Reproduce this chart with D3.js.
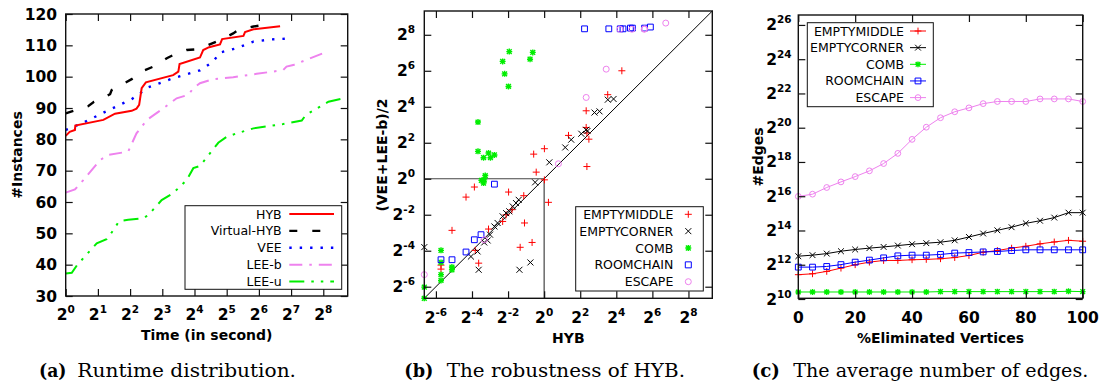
<!DOCTYPE html>
<html><head><meta charset="utf-8"><title>chart</title>
<script src="https://d3js.org/d3.v7.min.js"></script>
<style>html,body{margin:0;padding:0;background:#fff}svg{display:block}</style>
</head><body><svg id="chart" width="1099" height="387"></svg>
<script>
// ---------------- (a) Runtime distribution ----------------
const timeTicksA = [1, 2, 4, 8, 16, 32, 64, 128, 256];
const instTicks = [30, 40, 50, 60, 70, 80, 90, 100, 110, 120];
const seriesNamesA = ["HYB", "Virtual-HYB", "VEE", "LEE-b", "LEE-u"];
const hybTime = [1, 1.09, 1.22, 1.23, 2.25, 2.89, 4.14, 4.59, 4.86, 5.13, 5.62, 10.1, 11.3, 11.6, 18.0, 19.3, 21.9, 27.7, 29.0, 45.9, 47.5, 56.9, 101];
const hybInst = [81.1, 82.4, 83, 84.4, 86.2, 88.2, 89.1, 89.8, 91, 96.3, 98.2, 100.5, 101.6, 104, 106.1, 108.5, 109.4, 110.3, 112, 113, 114.2, 115.1, 116.1];
const vhybTime = [1, 1.27, 1.62, 1.84, 2.6, 2.69, 4.14, 5.5, 6.59, 8.82, 10.1, 13.5, 16.2, 21.6, 27.7, 36.8, 41.1, 56.9, 65.3];
const vhybInst = [88.3, 89.4, 90.6, 92, 94.4, 95.7, 99.2, 102.1, 103.2, 105.9, 106.9, 108.5, 108.7, 110.1, 111.7, 113.8, 114.9, 116, 116.3];
const veeTime = [1, 1.46, 2.41, 4.14, 5.94, 10.1, 18.0, 23.9, 27.7, 39.7, 56.9, 84.4, 125];
const veeInst = [83, 85.3, 89, 92.8, 96.6, 99.5, 102, 104.8, 107.7, 109.1, 111.2, 111.9, 112.2];
const leebTime = [1, 1.22, 1.46, 2.1, 2.5, 3.84, 4.59, 5.74, 8.17, 10.9, 14.0, 15.6, 18.0, 23.9, 36.8, 61.0, 108, 116, 134, 256];
const leebInst = [63, 64, 67, 73.4, 75, 76.1, 81.9, 86.2, 89.9, 93.1, 94.2, 96.3, 97.9, 99.2, 99.8, 100.9, 102.1, 103.2, 103.7, 107.5];
const leeuTime = [1, 1.14, 1.28, 1.95, 2.41, 2.6, 3.16, 3.84, 5.31, 5.94, 7.89, 10.1, 13.5, 15.6, 18.0, 22.3, 26.7, 32, 39.7, 56.9, 108, 161, 176, 286, 393];
const leeuInst = [37.2, 37.4, 39.9, 46.8, 48.1, 49.5, 53.9, 54.3, 54.8, 55.9, 60.6, 62.8, 67, 70.8, 71.5, 75.5, 78.9, 80.8, 81.9, 83.5, 84.9, 86, 87.8, 92, 93.1];

// ---------------- (b) Robustness of HYB: [HYB time, (VEE+LEE-b)/2 time] ----------------
const robustTicks = [1/64, 1/16, 1/4, 1, 4, 16, 64, 256];
const seriesNamesB = ["EMPTYMIDDLE", "EMPTYCORNER", "COMB", "ROOMCHAIN", "ESCAPE"];
const emptyMiddlePts = [[19.8,64],[11.5,25.5],[5.03,13.7],[5.03,7.21],[5.17,5.82],[5.58,4.59],[5.17,1.60],[2.55,5.31],[1.01,3.18],[0.669,2.58],[0.737,1.29],[1.01,0.959],[0.0685,0.727],[0.0497,0.493],[0.255,0.599],[0.457,0.521],[1.18,0.403],[0.029,0.137],[0.47,0.182],[0.629,0.0859],[0.398,0.0713],[0.291,0.304],[0.232,0.25],[0.203,0.193],[0.118,0.144],[0.0708,0.0634],[0.0808,0.0387],[0.019,0.0308],[0.019,0.0359]];
const emptyCornerPts = [[2.25,3.34],[2.83,4.5],[4.17,5.66],[5.03,6.59],[5.28,6.28],[6.92,12.8],[8.4,13.4],[11.55,21.0],[14.4,21.6],[1.22,1.88],[0.707,0.871],[0.376,0.444],[0.339,0.392],[0.299,0.344],[0.262,0.285],[0.232,0.266],[0.203,0.235],[0.167,0.182],[0.148,0.159],[0.125,0.116],[0.114,0.0928],[0.1,0.0859],[0.0775,0.0608],[0.06,0.05],[0.0808,0.03],[0.387,0.03],[0.59,0.0398],[0.01,0.0718]];
const combPts = [[0.262,134],[0.203,91.8],[0.646,130],[0.582,100],[0.219,56.9],[0.254,35.0],[0.0787,8.88],[0.0787,2.87],[0.0975,2.25],[0.118,2.69],[0.127,2.25],[0.148,2.50],[0.104,1.13],[0.0896,0.939],[0.0975,0.847],[0.1,0.959],[0.019,0.0634],[0.019,0.0398],[0.0289,0.0333],[0.0289,0.030],[0.019,0.0249],[0.019,0.0199],[0.01,0.0154],[0.01,0.01]];
const roomChainPts = [[4.72,322],[12.0,322],[18.6,322],[20.7,322],[27.5,331],[29.7,331],[47.5,331],[59.3,345],[0.148,0.812],[0.0884,0.116],[0.0684,0.0954],[0.0497,0.0595],[0.019,0.0442],[0.029,0.0442]];
const escapePts = [[107,402],[47.5,322],[18.4,317],[29.2,317],[46.8,317],[10.85,68.1],[5.03,22.9],[1.73,1.78],[0.1,0.0954],[0.01,0.0249]];

// ---------------- (c) Average number of edges ----------------
const elimPct = [0, 5, 10, 15, 20, 25, 30, 35, 40, 45, 50, 55, 60, 65, 70, 75, 80, 85, 90, 95, 100];
const pctTicks = [0, 20, 40, 60, 80, 100];
const edgeTicks = [2**10, 2**12, 2**14, 2**16, 2**18, 2**20, 2**22, 2**24, 2**26];
const emptyMiddleEdges = [2740, 2840, 3130, 3570, 4100, 4550, 4870, 4870, 5010, 5080, 5220, 5480, 5960, 6790, 7280, 8020, 8660, 9540, 10300, 11000, 10600];
const emptyCornerEdges = [5790, 6040, 6430, 7080, 7590, 8020, 8420, 8900, 9410, 9810, 10200, 11000, 12600, 14500, 16500, 18700, 21900, 24300, 27600, 33700, 33700];
const combEdges = [1360, 1360, 1360, 1360, 1360, 1360, 1360, 1360, 1360, 1360, 1380, 1380, 1380, 1380, 1380, 1380, 1380, 1380, 1380, 1400, 1380];
const roomChainEdges = [3720, 3720, 3820, 4120, 4550, 4940, 5410, 5870, 6040, 6040, 6210, 6560, 6700, 6890, 6990, 7280, 7490, 7490, 7490, 7490, 7490];
const escapeEdges = [65100, 71200, 93300, 117000, 145000, 183000, 246000, 371000, 654000, 1070000, 1570000, 2000000, 2340000, 2780000, 3030000, 3030000, 3030000, 3360000, 3360000, 3360000, 3030000];

// ================= drawing =================
const svg = d3.select("#chart");
const SANS = "'DejaVu Sans', Verdana, sans-serif";
const SERIF = "'DejaVu Serif', serif";
const RED = "#ff0000", GREEN = "#00ee00", BLUE = "#0000ff", VIOLET = "#ee82ee", BLACK = "#000000";

function log2Label(sel, v, expSize) {
  const e = Math.round(Math.log2(v));
  sel.append("tspan").text("2");
  sel.append("tspan").attr("dy", -7).attr("font-size", expSize).text(String(e));
}

function drawAxes(box, xs, ys, xTicks, yTicks, xFmt, yFmt, opt) {
  const g = svg.append("g");
  const tl = 7;
  const mk = (axis, tr) => {
    const a = g.append("g").attr("transform", tr).call(axis.tickSizeInner(-tl).tickSizeOuter(0).tickFormat(""));
    a.select(".domain").remove();
    a.selectAll("line").attr("stroke", "#111").attr("stroke-width", 1.2);
  };
  mk(d3.axisBottom(xs).tickValues(xTicks), `translate(0,${box.b})`);
  mk(d3.axisTop(xs).tickValues(xTicks), `translate(0,${box.t})`);
  mk(d3.axisLeft(ys).tickValues(yTicks), `translate(${box.l},0)`);
  mk(d3.axisRight(ys).tickValues(yTicks), `translate(${box.r},0)`);
  g.append("rect").attr("x", box.l).attr("y", box.t).attr("width", box.r - box.l).attr("height", box.b - box.t)
    .attr("fill", "none").attr("stroke", "#111").attr("stroke-width", 1.4);
  xTicks.forEach(t => {
    const tx = g.append("text").attr("x", xs(t)).attr("y", opt.xLabY).attr("text-anchor", "middle")
      .attr("font-family", SANS).attr("font-weight", "bold").attr("font-size", 15.5).attr("fill", "#000");
    xFmt(tx, t);
  });
  yTicks.forEach(t => {
    const ty = g.append("text").attr("x", opt.yLabX).attr("y", ys(t) + 5.5).attr("text-anchor", "end")
      .attr("font-family", SANS).attr("font-weight", "bold").attr("font-size", 15.5).attr("fill", "#000");
    yFmt(ty, t);
  });
}

function axisTitle(x, y, text, rotate) {
  svg.append("text").attr("transform", `translate(${x},${y})` + (rotate ? " rotate(-90)" : ""))
    .attr("text-anchor", "middle").attr("font-family", SANS).attr("font-weight", "bold").attr("font-size", 14)
    .attr("fill", "#000").text(text);
}

function caption(xb, wb, xr, wr, label, text) {
  svg.append("text").attr("x", xb).attr("y", 377).attr("font-family", SERIF).attr("font-weight", "bold")
    .attr("font-size", 19).attr("textLength", wb).attr("lengthAdjust", "spacingAndGlyphs").attr("fill", "#000").text(label);
  svg.append("text").attr("x", xr).attr("y", 377).attr("font-family", SERIF)
    .attr("font-size", 19).attr("textLength", wr).attr("lengthAdjust", "spacingAndGlyphs").attr("fill", "#000").text(text);
}

function addMarker(g, type, color, x, y, s) {
  s = s || 3;
  if (type === "circle") {
    g.append("circle").attr("cx", x).attr("cy", y).attr("r", s).attr("fill", "none").attr("stroke", color).attr("stroke-width", 1);
    return;
  }
  let d;
  if (type === "plus") d = `M${-s-0.5},0H${s+0.5}M0,${-s-0.5}V${s+0.5}`;
  else if (type === "cross") d = `M${-s},${-s}L${s},${s}M${-s},${s}L${s},${-s}`;
  else if (type === "star") d = `M${-s},0H${s}M0,${-s}V${s}M${-s*0.8},${-s*0.8}L${s*0.8},${s*0.8}M${-s*0.8},${s*0.8}L${s*0.8},${-s*0.8}`;
  else if (type === "square") d = `M${-s},${-s}H${s}V${s}H${-s}Z`;
  g.append("path").attr("d", d).attr("transform", `translate(${x},${y})`).attr("fill", "none")
    .attr("stroke", color).attr("stroke-width", type === "star" ? 1.4 : 1);
}

// ---------- Panel (a) ----------
{
  const box = {l: 65.7, t: 14, r: 347.7, b: 296};
  const xs = d3.scaleLog().base(2).domain([1, 433]).range([box.l, box.r]);
  const ys = d3.scaleLinear().domain([30, 120]).range([box.b, box.t]);
  svg.append("clipPath").attr("id", "clipA").append("rect").attr("x", box.l).attr("y", box.t).attr("width", box.r - box.l).attr("height", box.b - box.t);
  const styles = [
    {t: hybTime, v: hybInst, c: RED, w: 2, dash: null},
    {t: vhybTime, v: vhybInst, c: BLACK, w: 2.4, dash: "8,15"},
    {t: veeTime, v: veeInst, c: BLUE, w: 2.4, dash: "2.4,8"},
    {t: leebTime, v: leebInst, c: VIOLET, w: 2, dash: "13,7,2.5,7"},
    {t: leeuTime, v: leeuInst, c: GREEN, w: 2, dash: "15,7,2.5,7,2.5,7"}
  ];
  const line = d3.line().x(d => xs(d[0])).y(d => ys(d[1]));
  const lg = svg.append("g").attr("clip-path", "url(#clipA)");
  styles.slice().reverse().forEach(s => {
    lg.append("path").attr("d", line(s.t.map((t, i) => [t, s.v[i]]))).attr("fill", "none")
      .attr("stroke", s.c).attr("stroke-width", s.w).attr("stroke-dasharray", s.dash);
  });
  drawAxes(box, xs, ys, timeTicksA, instTicks, (s, t) => log2Label(s, t, 10.5), (s, t) => s.text(t), {xLabY: 320, yLabX: 57});
  const L = svg.append("g");
  L.append("rect").attr("x", 185).attr("y", 205.7).attr("width", 156.7).attr("height", 83.6).attr("fill", "#fff").attr("stroke", "#111").attr("stroke-width", 1);
  seriesNamesA.forEach((n, i) => {
    const y = 214 + i * 16.9;
    L.append("text").attr("x", 281.7).attr("y", y + 4.5).attr("text-anchor", "end").attr("font-family", SANS)
      .attr("font-size", 12.5).attr("fill", "#000").text(n);
    L.append("line").attr("x1", 289.3).attr("x2", 334).attr("y1", y).attr("y2", y)
      .attr("stroke", styles[i].c).attr("stroke-width", styles[i].w).attr("stroke-dasharray", styles[i].dash);
  });
  axisTitle(206.7, 339.5, "Time (in second)", false);
  axisTitle(22, 155, "#Instances", true);
  caption(39, 27.4, 77.3, 218.7, "(a)", "Runtime distribution.");
}

// ---------- Panel (b) ----------
{
  const box = {l: 424.3, t: 11, r: 712.3, b: 298.3};
  const xs = d3.scaleLog().base(2).domain([0.01, 640]).range([box.l, box.r]);
  const ys = d3.scaleLog().base(2).domain([0.01, 640]).range([box.b, box.t]);
  const g = svg.append("g");
  g.append("line").attr("x1", xs(0.01)).attr("y1", ys(0.01)).attr("x2", xs(640)).attr("y2", ys(640)).attr("stroke", "#000").attr("stroke-width", 1);
  g.append("line").attr("x1", xs(0.01)).attr("y1", ys(1)).attr("x2", xs(1)).attr("y2", ys(1)).attr("stroke", "#444").attr("stroke-width", 1.2);
  g.append("line").attr("x1", xs(1)).attr("y1", ys(1)).attr("x2", xs(1)).attr("y2", ys(0.01)).attr("stroke", "#444").attr("stroke-width", 1.2);
  const sets = [
    {p: emptyMiddlePts, type: "plus", c: RED},
    {p: emptyCornerPts, type: "cross", c: BLACK},
    {p: combPts, type: "star", c: GREEN},
    {p: roomChainPts, type: "square", c: BLUE},
    {p: escapePts, type: "circle", c: VIOLET}
  ];
  sets.forEach(s => s.p.forEach(d => addMarker(g, s.type, s.c, xs(d[0]), ys(d[1]), s.type === "square" ? 2.9 : 3)));
  drawAxes(box, xs, ys, robustTicks, robustTicks, (s, t) => log2Label(s, t, 10.5), (s, t) => log2Label(s, t, 10.5), {xLabY: 323, yLabX: 415});
  const L = svg.append("g");
  L.append("rect").attr("x", 575.7).attr("y", 206.7).attr("width", 127.6).attr("height", 84.3).attr("fill", "#fff").attr("stroke", "#111").attr("stroke-width", 1);
  seriesNamesB.forEach((n, i) => {
    const y = 214.3 + i * 16.85;
    L.append("text").attr("x", 673.3).attr("y", y + 4.5).attr("text-anchor", "end").attr("font-family", SANS)
      .attr("font-size", 12.5).attr("fill", "#000").text(n);
    addMarker(L, sets[i].type, sets[i].c, 688.3, y, 3);
  });
  axisTitle(568.3, 343, "HYB", false);
  axisTitle(387, 155, "(VEE+LEE-b)/2", true);
  caption(404.3, 29, 446.7, 238.3, "(b)", "The robustness of HYB.");
}

// ---------- Panel (c) ----------
{
  const box = {l: 798.3, t: 15, r: 1082.7, b: 298.3};
  const xs = d3.scaleLinear().domain([0, 100]).range([box.l, box.r]);
  const ys = d3.scaleLog().base(2).domain([2 ** 10, 2 ** 26.58]).range([299, box.t]);
  const sets = [
    {v: emptyMiddleEdges, type: "plus", c: RED},
    {v: emptyCornerEdges, type: "cross", c: BLACK},
    {v: combEdges, type: "star", c: GREEN},
    {v: roomChainEdges, type: "square", c: BLUE},
    {v: escapeEdges, type: "circle", c: VIOLET}
  ];
  const g = svg.append("g");
  const line = d3.line().x(d => xs(d[0])).y(d => ys(d[1]));
  sets.forEach(s => {
    const pts = elimPct.map((p, i) => [p, s.v[i]]);
    g.append("path").attr("d", line(pts)).attr("fill", "none").attr("stroke", s.c).attr("stroke-width", 1);
    pts.forEach(d => addMarker(g, s.type, s.c, xs(d[0]), ys(d[1]), 2.9));
  });
  drawAxes(box, xs, ys, pctTicks, edgeTicks, (s, t) => s.text(t), (s, t) => log2Label(s, t, 10.5), {xLabY: 323.3, yLabX: 791.7});
  const L = svg.append("g");
  L.append("rect").attr("x", 807.3).attr("y", 22.7).attr("width", 126).attr("height", 84).attr("fill", "#fff").attr("stroke", "#111").attr("stroke-width", 1);
  seriesNamesB.forEach((n, i) => {
    const y = 31 + i * 16.65;
    L.append("text").attr("x", 904).attr("y", y + 4.5).attr("text-anchor", "end").attr("font-family", SANS)
      .attr("font-size", 12.5).attr("fill", "#000").text(n);
    L.append("line").attr("x1", 910).attr("x2", 926).attr("y1", y).attr("y2", y).attr("stroke", sets[i].c).attr("stroke-width", 1);
    addMarker(L, sets[i].type, sets[i].c, 918, y, 2.9);
  });
  axisTitle(940.5, 343, "%Eliminated Vertices", false);
  axisTitle(763, 157, "#Edges", true);
  caption(751.7, 28.3, 793.3, 295, "(c)", "The average number of edges.");
}
</script></body></html>
